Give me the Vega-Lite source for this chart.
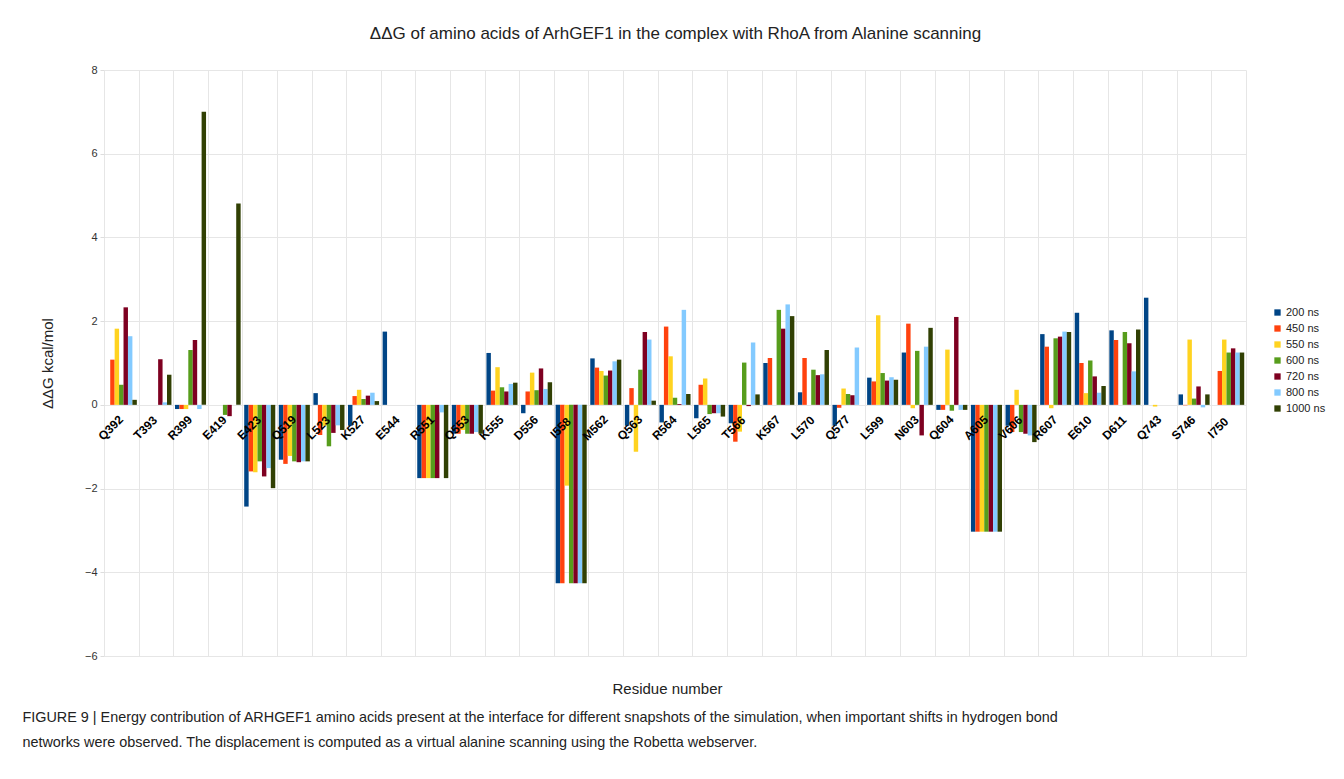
{
  "$schema": "https://vega.github.io/schema/vega-lite/v6.json",
  "width": 1142,
  "height": 586,
  "autosize": {"type": "none"},
  "padding": {"left": 104, "top": 70, "right": 98, "bottom": 123},
  "background": "white",
  "config": {"font": "Liberation Sans", "view": {"stroke": null}},
  "title": {
    "text": ["FIGURE 9 | Energy contribution of ARHGEF1 amino acids present at the interface for different snapshots of the simulation, when important shifts in hydrogen bond", "networks were observed. The displacement is computed as a virtual alanine scanning using the Robetta webserver."],
    "orient": "bottom", "anchor": "start", "frame": "bounds", "offset": 15, "dx": -18,
    "font": "Liberation Sans", "fontSize": 14.4, "fontWeight": "normal", "color": "#222", "lineHeight": 25
  },
  "datasets": {
    "residues": [
      {"res": "Q392"}, {"res": "T393"}, {"res": "R399"}, {"res": "E419"}, {"res": "E423"}, {"res": "Q519"}, {"res": "L523"}, {"res": "K527"}, {"res": "E544"}, {"res": "R551"}, {"res": "Q553"}, {"res": "K555"}, {"res": "D556"}, {"res": "I558"}, {"res": "M562"}, {"res": "Q563"}, {"res": "R564"}, {"res": "L565"}, {"res": "T566"}, {"res": "K567"}, {"res": "L570"}, {"res": "Q577"}, {"res": "L599"}, {"res": "N603"}, {"res": "Q604"}, {"res": "A605"}, {"res": "V606"}, {"res": "R607"}, {"res": "E610"}, {"res": "D611"}, {"res": "Q743"}, {"res": "S746"}, {"res": "I750"}
    ],
    "bars": [
      {"res": "Q392", "t": "200 ns", "v": 0}, {"res": "Q392", "t": "450 ns", "v": 1.08}, {"res": "Q392", "t": "550 ns", "v": 1.82}, {"res": "Q392", "t": "600 ns", "v": 0.48}, {"res": "Q392", "t": "720 ns", "v": 2.33}, {"res": "Q392", "t": "800 ns", "v": 1.64}, {"res": "Q392", "t": "1000 ns", "v": 0.12},
      {"res": "T393", "t": "200 ns", "v": 0}, {"res": "T393", "t": "450 ns", "v": 0}, {"res": "T393", "t": "550 ns", "v": 0}, {"res": "T393", "t": "600 ns", "v": 0}, {"res": "T393", "t": "720 ns", "v": 1.09}, {"res": "T393", "t": "800 ns", "v": 0.06}, {"res": "T393", "t": "1000 ns", "v": 0.72},
      {"res": "R399", "t": "200 ns", "v": -0.1}, {"res": "R399", "t": "450 ns", "v": -0.1}, {"res": "R399", "t": "550 ns", "v": -0.1}, {"res": "R399", "t": "600 ns", "v": 1.31}, {"res": "R399", "t": "720 ns", "v": 1.55}, {"res": "R399", "t": "800 ns", "v": -0.1}, {"res": "R399", "t": "1000 ns", "v": 7.0},
      {"res": "E419", "t": "200 ns", "v": 0}, {"res": "E419", "t": "450 ns", "v": 0}, {"res": "E419", "t": "550 ns", "v": 0}, {"res": "E419", "t": "600 ns", "v": -0.24}, {"res": "E419", "t": "720 ns", "v": -0.27}, {"res": "E419", "t": "800 ns", "v": 0}, {"res": "E419", "t": "1000 ns", "v": 4.81},
      {"res": "E423", "t": "200 ns", "v": -2.43}, {"res": "E423", "t": "450 ns", "v": -1.59}, {"res": "E423", "t": "550 ns", "v": -1.61}, {"res": "E423", "t": "600 ns", "v": -1.35}, {"res": "E423", "t": "720 ns", "v": -1.71}, {"res": "E423", "t": "800 ns", "v": -1.51}, {"res": "E423", "t": "1000 ns", "v": -1.99},
      {"res": "Q519", "t": "200 ns", "v": -1.31}, {"res": "Q519", "t": "450 ns", "v": -1.41}, {"res": "Q519", "t": "550 ns", "v": -1.22}, {"res": "Q519", "t": "600 ns", "v": -1.35}, {"res": "Q519", "t": "720 ns", "v": -1.37}, {"res": "Q519", "t": "800 ns", "v": -1.35}, {"res": "Q519", "t": "1000 ns", "v": -1.35},
      {"res": "L523", "t": "200 ns", "v": 0.28}, {"res": "L523", "t": "450 ns", "v": -0.72}, {"res": "L523", "t": "550 ns", "v": -0.5}, {"res": "L523", "t": "600 ns", "v": -0.99}, {"res": "L523", "t": "720 ns", "v": -0.67}, {"res": "L523", "t": "800 ns", "v": -0.49}, {"res": "L523", "t": "1000 ns", "v": -0.6},
      {"res": "K527", "t": "200 ns", "v": -0.5}, {"res": "K527", "t": "450 ns", "v": 0.21}, {"res": "K527", "t": "550 ns", "v": 0.36}, {"res": "K527", "t": "600 ns", "v": 0.14}, {"res": "K527", "t": "720 ns", "v": 0.22}, {"res": "K527", "t": "800 ns", "v": 0.29}, {"res": "K527", "t": "1000 ns", "v": 0.09},
      {"res": "E544", "t": "200 ns", "v": 1.75}, {"res": "E544", "t": "450 ns", "v": 0}, {"res": "E544", "t": "550 ns", "v": 0}, {"res": "E544", "t": "600 ns", "v": 0}, {"res": "E544", "t": "720 ns", "v": 0}, {"res": "E544", "t": "800 ns", "v": 0}, {"res": "E544", "t": "1000 ns", "v": 0},
      {"res": "R551", "t": "200 ns", "v": -1.75}, {"res": "R551", "t": "450 ns", "v": -1.75}, {"res": "R551", "t": "550 ns", "v": -1.75}, {"res": "R551", "t": "600 ns", "v": -1.75}, {"res": "R551", "t": "720 ns", "v": -1.75}, {"res": "R551", "t": "800 ns", "v": -0.18}, {"res": "R551", "t": "1000 ns", "v": -1.75},
      {"res": "Q553", "t": "200 ns", "v": -0.69}, {"res": "Q553", "t": "450 ns", "v": -0.69}, {"res": "Q553", "t": "550 ns", "v": -0.6}, {"res": "Q553", "t": "600 ns", "v": -0.69}, {"res": "Q553", "t": "720 ns", "v": -0.69}, {"res": "Q553", "t": "800 ns", "v": -0.65}, {"res": "Q553", "t": "1000 ns", "v": -0.69},
      {"res": "K555", "t": "200 ns", "v": 1.24}, {"res": "K555", "t": "450 ns", "v": 0.34}, {"res": "K555", "t": "550 ns", "v": 0.9}, {"res": "K555", "t": "600 ns", "v": 0.42}, {"res": "K555", "t": "720 ns", "v": 0.32}, {"res": "K555", "t": "800 ns", "v": 0.5}, {"res": "K555", "t": "1000 ns", "v": 0.53},
      {"res": "D556", "t": "200 ns", "v": -0.2}, {"res": "D556", "t": "450 ns", "v": 0.32}, {"res": "D556", "t": "550 ns", "v": 0.77}, {"res": "D556", "t": "600 ns", "v": 0.35}, {"res": "D556", "t": "720 ns", "v": 0.87}, {"res": "D556", "t": "800 ns", "v": 0.38}, {"res": "D556", "t": "1000 ns", "v": 0.54},
      {"res": "I558", "t": "200 ns", "v": -4.26}, {"res": "I558", "t": "450 ns", "v": -4.26}, {"res": "I558", "t": "550 ns", "v": -1.93}, {"res": "I558", "t": "600 ns", "v": -4.26}, {"res": "I558", "t": "720 ns", "v": -4.26}, {"res": "I558", "t": "800 ns", "v": -4.26}, {"res": "I558", "t": "1000 ns", "v": -4.26},
      {"res": "M562", "t": "200 ns", "v": 1.11}, {"res": "M562", "t": "450 ns", "v": 0.89}, {"res": "M562", "t": "550 ns", "v": 0.81}, {"res": "M562", "t": "600 ns", "v": 0.7}, {"res": "M562", "t": "720 ns", "v": 0.82}, {"res": "M562", "t": "800 ns", "v": 1.04}, {"res": "M562", "t": "1000 ns", "v": 1.08},
      {"res": "Q563", "t": "200 ns", "v": -0.5}, {"res": "Q563", "t": "450 ns", "v": 0.4}, {"res": "Q563", "t": "550 ns", "v": -1.12}, {"res": "Q563", "t": "600 ns", "v": 0.84}, {"res": "Q563", "t": "720 ns", "v": 1.74}, {"res": "Q563", "t": "800 ns", "v": 1.56}, {"res": "Q563", "t": "1000 ns", "v": 0.1},
      {"res": "R564", "t": "200 ns", "v": -0.42}, {"res": "R564", "t": "450 ns", "v": 1.87}, {"res": "R564", "t": "550 ns", "v": 1.16}, {"res": "R564", "t": "600 ns", "v": 0.17}, {"res": "R564", "t": "720 ns", "v": 0.02}, {"res": "R564", "t": "800 ns", "v": 2.27}, {"res": "R564", "t": "1000 ns", "v": 0.26},
      {"res": "L565", "t": "200 ns", "v": -0.32}, {"res": "L565", "t": "450 ns", "v": 0.48}, {"res": "L565", "t": "550 ns", "v": 0.63}, {"res": "L565", "t": "600 ns", "v": -0.22}, {"res": "L565", "t": "720 ns", "v": -0.2}, {"res": "L565", "t": "800 ns", "v": -0.2}, {"res": "L565", "t": "1000 ns", "v": -0.28},
      {"res": "T566", "t": "200 ns", "v": -0.44}, {"res": "T566", "t": "450 ns", "v": -0.88}, {"res": "T566", "t": "550 ns", "v": -0.64}, {"res": "T566", "t": "600 ns", "v": 1.01}, {"res": "T566", "t": "720 ns", "v": -0.03}, {"res": "T566", "t": "800 ns", "v": 1.49}, {"res": "T566", "t": "1000 ns", "v": 0.25},
      {"res": "K567", "t": "200 ns", "v": 1.0}, {"res": "K567", "t": "450 ns", "v": 1.12}, {"res": "K567", "t": "550 ns", "v": 0}, {"res": "K567", "t": "600 ns", "v": 2.27}, {"res": "K567", "t": "720 ns", "v": 1.82}, {"res": "K567", "t": "800 ns", "v": 2.4}, {"res": "K567", "t": "1000 ns", "v": 2.12},
      {"res": "L570", "t": "200 ns", "v": 0.3}, {"res": "L570", "t": "450 ns", "v": 1.12}, {"res": "L570", "t": "550 ns", "v": 0}, {"res": "L570", "t": "600 ns", "v": 0.84}, {"res": "L570", "t": "720 ns", "v": 0.71}, {"res": "L570", "t": "800 ns", "v": 0.73}, {"res": "L570", "t": "1000 ns", "v": 1.31},
      {"res": "Q577", "t": "200 ns", "v": -0.5}, {"res": "Q577", "t": "450 ns", "v": -0.07}, {"res": "Q577", "t": "550 ns", "v": 0.39}, {"res": "Q577", "t": "600 ns", "v": 0.26}, {"res": "Q577", "t": "720 ns", "v": 0.23}, {"res": "Q577", "t": "800 ns", "v": 1.37}, {"res": "Q577", "t": "1000 ns", "v": 0},
      {"res": "L599", "t": "200 ns", "v": 0.65}, {"res": "L599", "t": "450 ns", "v": 0.56}, {"res": "L599", "t": "550 ns", "v": 2.14}, {"res": "L599", "t": "600 ns", "v": 0.76}, {"res": "L599", "t": "720 ns", "v": 0.58}, {"res": "L599", "t": "800 ns", "v": 0.66}, {"res": "L599", "t": "1000 ns", "v": 0.6},
      {"res": "N603", "t": "200 ns", "v": 1.25}, {"res": "N603", "t": "450 ns", "v": 1.94}, {"res": "N603", "t": "550 ns", "v": -0.08}, {"res": "N603", "t": "600 ns", "v": 1.29}, {"res": "N603", "t": "720 ns", "v": -0.73}, {"res": "N603", "t": "800 ns", "v": 1.39}, {"res": "N603", "t": "1000 ns", "v": 1.84},
      {"res": "Q604", "t": "200 ns", "v": -0.12}, {"res": "Q604", "t": "450 ns", "v": -0.12}, {"res": "Q604", "t": "550 ns", "v": 1.32}, {"res": "Q604", "t": "600 ns", "v": -0.14}, {"res": "Q604", "t": "720 ns", "v": 2.1}, {"res": "Q604", "t": "800 ns", "v": -0.12}, {"res": "Q604", "t": "1000 ns", "v": -0.12},
      {"res": "A605", "t": "200 ns", "v": -3.03}, {"res": "A605", "t": "450 ns", "v": -3.03}, {"res": "A605", "t": "550 ns", "v": -3.03}, {"res": "A605", "t": "600 ns", "v": -3.03}, {"res": "A605", "t": "720 ns", "v": -3.03}, {"res": "A605", "t": "800 ns", "v": -3.03}, {"res": "A605", "t": "1000 ns", "v": -3.03},
      {"res": "V606", "t": "200 ns", "v": -0.5}, {"res": "V606", "t": "450 ns", "v": -0.65}, {"res": "V606", "t": "550 ns", "v": 0.36}, {"res": "V606", "t": "600 ns", "v": -0.65}, {"res": "V606", "t": "720 ns", "v": -0.69}, {"res": "V606", "t": "800 ns", "v": -0.73}, {"res": "V606", "t": "1000 ns", "v": -0.89},
      {"res": "R607", "t": "200 ns", "v": 1.69}, {"res": "R607", "t": "450 ns", "v": 1.39}, {"res": "R607", "t": "550 ns", "v": -0.08}, {"res": "R607", "t": "600 ns", "v": 1.59}, {"res": "R607", "t": "720 ns", "v": 1.63}, {"res": "R607", "t": "800 ns", "v": 1.75}, {"res": "R607", "t": "1000 ns", "v": 1.74},
      {"res": "E610", "t": "200 ns", "v": 2.2}, {"res": "E610", "t": "450 ns", "v": 1.0}, {"res": "E610", "t": "550 ns", "v": 0.28}, {"res": "E610", "t": "600 ns", "v": 1.06}, {"res": "E610", "t": "720 ns", "v": 0.68}, {"res": "E610", "t": "800 ns", "v": 0.29}, {"res": "E610", "t": "1000 ns", "v": 0.45},
      {"res": "D611", "t": "200 ns", "v": 1.78}, {"res": "D611", "t": "450 ns", "v": 1.55}, {"res": "D611", "t": "550 ns", "v": 0}, {"res": "D611", "t": "600 ns", "v": 1.74}, {"res": "D611", "t": "720 ns", "v": 1.47}, {"res": "D611", "t": "800 ns", "v": 0.8}, {"res": "D611", "t": "1000 ns", "v": 1.8},
      {"res": "Q743", "t": "200 ns", "v": 2.56}, {"res": "Q743", "t": "450 ns", "v": 0}, {"res": "Q743", "t": "550 ns", "v": -0.04}, {"res": "Q743", "t": "600 ns", "v": 0}, {"res": "Q743", "t": "720 ns", "v": 0}, {"res": "Q743", "t": "800 ns", "v": 0}, {"res": "Q743", "t": "1000 ns", "v": 0},
      {"res": "S746", "t": "200 ns", "v": 0.25}, {"res": "S746", "t": "450 ns", "v": -0.01}, {"res": "S746", "t": "550 ns", "v": 1.56}, {"res": "S746", "t": "600 ns", "v": 0.15}, {"res": "S746", "t": "720 ns", "v": 0.44}, {"res": "S746", "t": "800 ns", "v": -0.06}, {"res": "S746", "t": "1000 ns", "v": 0.25},
      {"res": "I750", "t": "200 ns", "v": 0}, {"res": "I750", "t": "450 ns", "v": 0.81}, {"res": "I750", "t": "550 ns", "v": 1.56}, {"res": "I750", "t": "600 ns", "v": 1.25}, {"res": "I750", "t": "720 ns", "v": 1.35}, {"res": "I750", "t": "800 ns", "v": 1.25}, {"res": "I750", "t": "1000 ns", "v": 1.25}
    ]
  },
  "layer": [
    {
      "data": {"name": "bars"},
      "mark": {"type": "bar"},
      "encoding": {
        "x": {
          "field": "res", "type": "nominal", "sort": null,
          "scale": {"paddingInner": 0, "paddingOuter": 0},
          "axis": {"orient": "bottom", "labels": false, "ticks": false, "domain": false, "grid": true, "tickBand": "extent", "gridColor": "#e6e6e6", "title": "Residue number", "titleX": 563, "titleFont": "Liberation Sans", "titleFontSize": 15, "titleFontWeight": "normal", "titleColor": "#222", "titlePadding": 25}
        },
        "xOffset": {
          "field": "t", "type": "nominal",
          "scale": {"domain": ["200 ns", "450 ns", "550 ns", "600 ns", "720 ns", "800 ns", "1000 ns"], "paddingInner": 0, "paddingOuter": 0.4}
        },
        "y": {
          "field": "v", "type": "quantitative",
          "scale": {"domain": [-6, 8], "nice": false, "zero": true},
          "axis": {"values": [-6, -4, -2, 0, 2, 4, 6, 8], "grid": true, "gridColor": "#e6e6e6", "domain": false, "tickSize": 4, "tickColor": "#dddddd", "labelPadding": 3, "labelFontSize": 11, "labelColor": "#333", "title": "ΔΔG kcal/mol", "titleFontSize": 15, "titleFontWeight": "normal", "titleColor": "#222", "titlePadding": 29}
        },
        "color": {
          "field": "t", "type": "nominal",
          "scale": {"domain": ["200 ns", "450 ns", "550 ns", "600 ns", "720 ns", "800 ns", "1000 ns"], "range": ["#004586", "#ff420e", "#ffd320", "#579d1c", "#7e0021", "#83caff", "#314004"]},
          "legend": {"title": null, "orient": "none", "legendX": 1168, "legendY": 237, "symbolType": "square", "symbolSize": 40, "symbolStrokeWidth": 0, "labelFontSize": 11, "labelColor": "#222", "rowPadding": 4, "labelOffset": 3, "padding": 0}
        }
      }
    },
    {
      "data": {"name": "residues"},
      "mark": {"type": "text", "angle": 315, "align": "center", "baseline": "middle", "fontWeight": "bold", "fontSize": 12, "font": "Liberation Sans", "color": "#000", "xOffset": -10.5, "yOffset": 23},
      "encoding": {
        "x": {
          "field": "res", "type": "nominal", "sort": null,
          "axis": {"orient": "top", "labels": false, "ticks": false, "domain": false, "grid": false, "title": "ΔΔG of amino acids of ArhGEF1 in the complex with RhoA from Alanine scanning", "titleFont": "Liberation Sans", "titleFontSize": 17, "titleFontWeight": "normal", "titleColor": "#222", "titlePadding": 28}
        },
        "y": {"datum": 0, "type": "quantitative", "title": "ΔΔG kcal/mol"},
        "text": {"field": "res", "type": "nominal"}
      }
    }
  ],
  "resolve": {"axis": {"x": "independent"}}
}
